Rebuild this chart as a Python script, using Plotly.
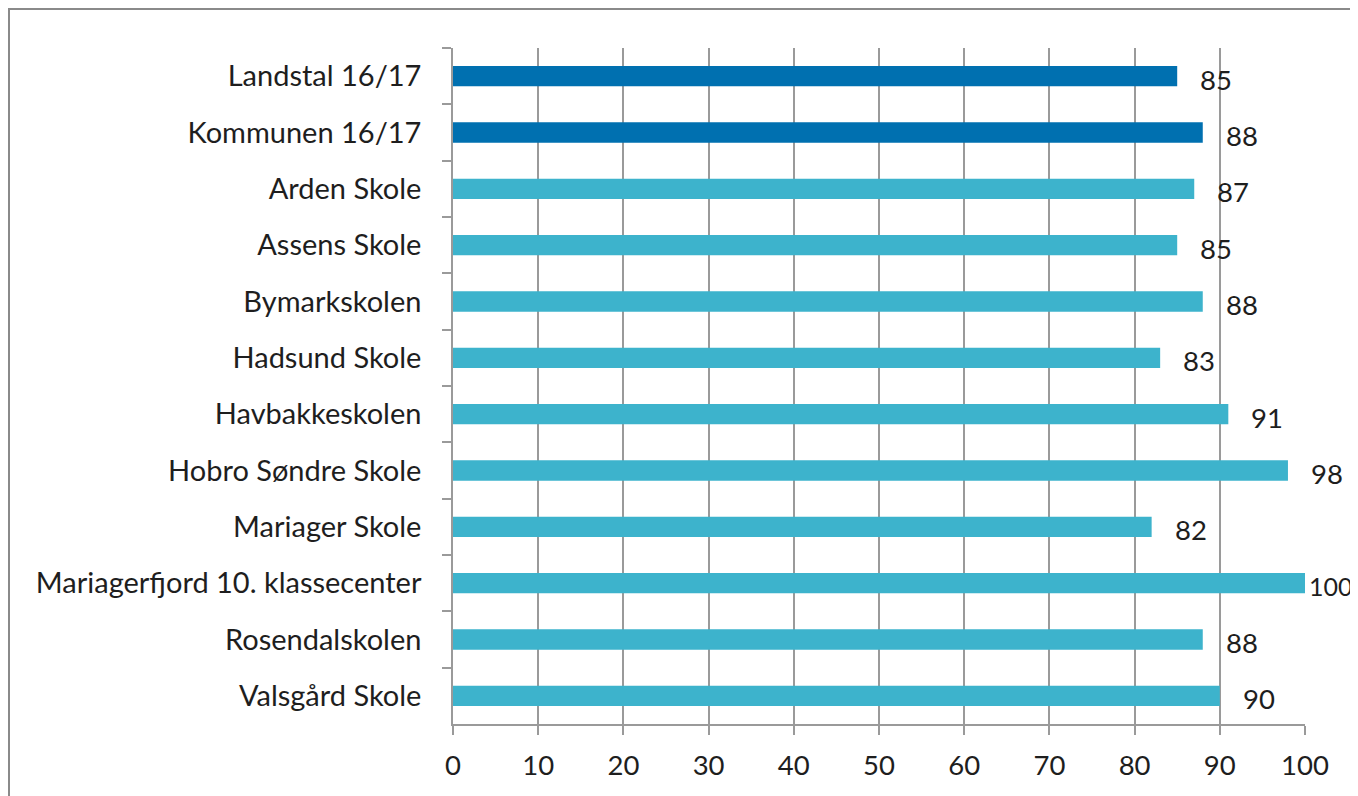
import plotly.graph_objects as go

categories = [
    "Landstal 16/17",
    "Kommunen 16/17",
    "Arden Skole",
    "Assens Skole",
    "Bymarkskolen",
    "Hadsund Skole",
    "Havbakkeskolen",
    "Hobro Søndre Skole",
    "Mariager Skole",
    "Mariagerfjord 10. klassecenter",
    "Rosendalskolen",
    "Valsgård Skole",
]
values = [85, 88, 87, 85, 88, 83, 91, 98, 82, 100, 88, 90]
x_ticks = [0, 10, 20, 30, 40, 50, 60, 70, 80, 90, 100]

DARK = "#0070B0"
LIGHT = "#3DB3CC"
colors = [DARK, DARK] + [LIGHT] * (len(categories) - 2)

FONT = "Lato"
FS = 27.5
TXT = "#1e1e1e"
GRID = "#9a9a9a"
W, H = 1350, 788
ml, mr, mt, mb = 445, 53, 40, 72

fig = go.Figure()
fig.add_trace(go.Bar(
    y=categories,
    x=values,
    orientation="h",
    marker=dict(color=colors, line=dict(width=0)),
    width=0.36,
    hoverinfo="x+y",
))

for c, v in zip(categories, values):
    full = v >= 100
    fig.add_annotation(
        x=v, y=c, xref="x", yref="y",
        text=str(v), showarrow=False,
        xanchor="left", yanchor="middle",
        xshift=2 if full else 21, yshift=-3,
        font=dict(family=FONT, size=25 if full else FS, color=TXT),
    )

fig.add_shape(
    type="rect", xref="paper", yref="paper",
    x0=(1 - ml) / (W - ml - mr), x1=(W + 20 - ml) / (W - ml - mr),
    y0=-(mb + 20) / (H - mt - mb), y1=(H - 1 - mb) / (H - mt - mb),
    line=dict(color="#8a8a8a", width=2), fillcolor="rgba(0,0,0,0)",
    layer="below",
)

fig.update_layout(
    width=W, height=H,
    margin=dict(l=ml, r=mr, t=mt, b=mb, pad=0),
    paper_bgcolor="white", plot_bgcolor="white",
    showlegend=False,
    bargap=0.64,
    font=dict(family=FONT, size=FS, color=TXT),
    xaxis=dict(
        range=[0, 100], tickvals=x_ticks, ticktext=[str(t) for t in x_ticks],
        showgrid=True, gridcolor=GRID, gridwidth=1.5,
        showline=True, linecolor=GRID, linewidth=1.5,
        ticks="outside", ticklen=9, tickcolor=GRID, tickwidth=1.5,
        ticklabelstandoff=7,
        zeroline=False, fixedrange=True, automargin=False,
        tickfont=dict(family=FONT, size=FS, color=TXT),
    ),
    yaxis=dict(
        autorange="reversed", type="category",
        showgrid=False,
        showline=True, linecolor=GRID, linewidth=1.5,
        ticks="outside", ticklen=9, tickcolor=GRID, tickwidth=1.5,
        tickson="boundaries",
        ticklabelstandoff=24,
        fixedrange=True, automargin=False,
        tickfont=dict(family=FONT, size=29, color=TXT),
    ),
)

fig.write_html("out.html")
